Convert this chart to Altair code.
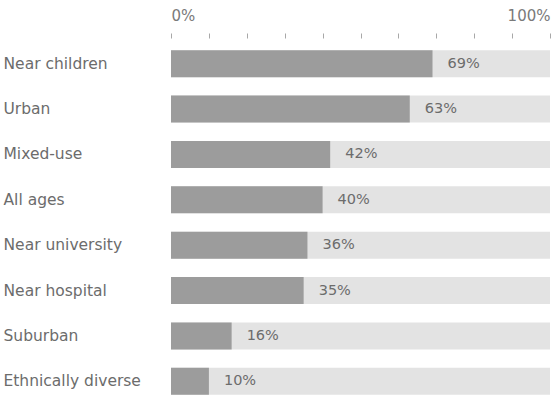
import altair as alt
import pandas as pd

categories = ["Near children", "Urban", "Mixed-use", "All ages",
              "Near university", "Near hospital", "Suburban", "Ethnically diverse"]
values = [69, 63, 42, 40, 36, 35, 16, 10]
tick_values = [0, 10, 20, 30, 40, 50, 60, 70, 80, 90, 100]

df = pd.DataFrame({"category": categories, "value": values})

FONT = "DejaVu Sans"
TXT = "#6c6c6c"

y = alt.Y("category:N", sort=categories, title=None,
          scale=alt.Scale(paddingInner=0.405, paddingOuter=0.2025),
          axis=alt.Axis(orient="left", labelAlign="left", labelPadding=168,
                        ticks=False, domain=False, grid=False, labelFontSize=15.5,
                        labelFont=FONT, labelFontWeight="normal", labelColor=TXT))

xscale = alt.Scale(domain=[0, 100], nice=False)
xaxis = alt.Axis(orient="top", values=tick_values, title=None,
                 labelExpr="datum.value == 0 || datum.value == 100 ? datum.value + '%' : ''",
                 labelFlush=True, labelOverlap=False, tickSize=5, offset=3,
                 domain=False, grid=False, tickRound=True,
                 tickColor="#a8a8a8", tickWidth=1, labelPadding=10,
                 labelFontSize=15, labelFont=FONT, labelFontWeight="normal",
                 labelColor="#7a7a7a")

base = alt.Chart(df)

bg = base.transform_calculate(full="100").mark_bar(color="#e3e3e3").encode(
    x=alt.X("full:Q", scale=xscale, axis=xaxis, title=None),
    y=y,
)

fg = base.mark_bar(color="#9c9c9c").encode(
    x=alt.X("value:Q", scale=xscale, axis=xaxis, title=None),
    y=y,
)

txt = base.mark_text(align="left", baseline="middle", dx=15, fontSize=14.5,
                     font=FONT, fontWeight="normal", color=TXT).encode(
    x=alt.X("value:Q", scale=xscale, axis=xaxis, title=None),
    y=y,
    text=alt.Text("label:N"),
).transform_calculate(label="datum.value + '%'")

chart = alt.layer(bg, fg, txt).properties(
    width=379, height=363,
    background="white",
    autosize=alt.AutoSizeParams(type="none"),
    padding={"left": 171, "top": 41, "right": 10, "bottom": 0},
).configure_view(strokeWidth=0, stroke="transparent").configure_axis(grid=False, domain=False)

chart.save("out.html", embed_options={"renderer": "svg", "actions": False})
